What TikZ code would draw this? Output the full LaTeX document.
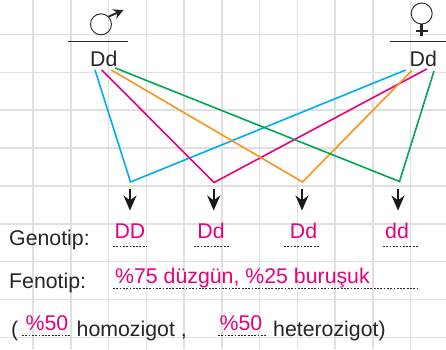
\documentclass[tikz,border=0pt]{standalone}
\usepackage{fontspec}
\setmainfont{Liberation Sans}
\usetikzlibrary{arrows.meta}

\begin{document}
\begin{tikzpicture}[
    x=1pt, y=-1pt,
    gridline/.style={draw=black!12, line width=1.5pt},
    rule/.style={draw=black!85, line width=1pt},
    symbol/.style={draw=black!85, line width=0.9pt, circle, minimum size=21pt, inner sep=0pt},
    label/.style={anchor=base west, inner sep=0pt, text=black!85, font=\fontsize{21.3}{24}\selectfont},
    answer/.style={anchor=base, inner sep=0pt, text=answerpink, font=\fontsize{21.3}{24}\selectfont},
    cross/.style={draw=black!85, line width=2.6pt},
    dots/.style={draw=black!85, line width=0.9pt, dash pattern=on 1.8pt off 1.5pt},
    pointer/.style={draw=black!90, line width=2pt, -{Stealth[length=15pt, width=13pt]}},
    mating/.style={line width=1.6pt}
]
\definecolor{answerpink}{HTML}{E6007E}
\definecolor{crossblue}{HTML}{00AEEF}
\definecolor{crossgreen}{HTML}{00A651}
\definecolor{crossorange}{HTML}{F7941D}

\useasboundingbox (0,0) rectangle (446,349);
\fill[white] (0,0) rectangle (446,349);

% squared paper
\foreach \gx in {33,70.75,108.5,146.25,184,221.75,259.5,297.25,335,372.75,410.5}
  \draw[gridline] (\gx,0) -- (\gx,349);
\foreach \gy in {34.7,72.4,110.1,148,186,224,261.7,299.7,337.7}
  \draw[gridline] (0,\gy) -- (446,\gy);

% parents
\node[symbol] (male) at (101,24.3) {};
\coordinate (maletip) at (123.5,10);
\draw[draw=black!85, line width=1.8pt, -{Stealth[length=10pt, width=10pt]}] (male.north east) -- (maletip);
\node[symbol] (female) at (421.7,13.5) {};
\coordinate (femalefoot) at (421.7,36);
\coordinate (crossl) at (416,31);
\coordinate (crossr) at (427.5,31);
\draw[cross] (female.south) -- (femalefoot);
\draw[cross] (crossl) -- (crossr);

\coordinate (malel) at (68,41.7);
\coordinate (maler) at (128,41.7);
\coordinate (femalel) at (390,41.7);
\coordinate (femaler) at (446,41.7);
\draw[rule] (malel) -- (maler);
\draw[rule] (femalel) -- (femaler);

\node[label] (dadgen) at (90,66) {Dd};
\node[label] (momgen) at (409.5,66) {Dd};

% gametes
\coordinate (b1) at (95,70);
\coordinate (m1) at (101.7,70);
\coordinate (o1) at (111.3,70);
\coordinate (g1) at (115.3,68);
\coordinate (b2) at (405.7,70);
\coordinate (m2) at (426.7,69);
\coordinate (o2) at (412,70.5);
\coordinate (g2) at (434,71);
\coordinate (b3) at (130.5,182);
\coordinate (m3) at (214,182.5);
\coordinate (o3) at (302.5,182);
\coordinate (g3) at (399.5,181.5);

\draw[crossblue, mating] (b1) -- (b3) -- (b2);
\draw[answerpink, mating] (m1) -- (m3) -- (m2);
\draw[crossorange, mating] (o1) -- (o3) -- (o2);
\draw[crossgreen, mating] (g1) -- (g3) -- (g2);

% offspring
\node[answer] (dd1) at (130,238) {DD};
\node[answer] (dd2) at (211,238) {Dd};
\node[answer] (dd3) at (303.5,238) {Dd};
\node[answer] (dd4) at (397,238) {dd};

\foreach \ax [count=\i] in {130,213.7,302,398} {
  \coordinate (top\i) at (\ax,189);
  \coordinate (tip\i) at (\ax,210.5);
  \draw[pointer] (top\i) -- (tip\i);
}

\foreach \lx/\rx in {113/147,194/230,284/319,383/418}
  \draw[dots] (\lx,246.3) -- (\rx,246.3);

\node[label] (genotip) at (9,245) {Genotip:};
\node[label] (fenotip) at (9,288) {Fenotip:};
\node[answer, anchor=base west] (ratio) at (115,283) {\%75 düzgün, \%25 buruşuk};
\draw[dots] (113,288.3) -- (418,288.3);

\node[label] (open) at (11,336.5) {(};
\node[answer, anchor=base west] (homo) at (25.5,330) {\%50};
\draw[dots] (22,335.8) -- (71,335.8);
\node[label] (homotext) at (76.5,336.5) {homozigot ,};
\node[answer, anchor=base west] (hetero) at (219.5,330) {\%50};
\draw[dots] (218,335.8) -- (266,335.8);
\node[label] (heterotext) at (273,336.5) {heterozigot)};

\end{tikzpicture}
\end{document}
